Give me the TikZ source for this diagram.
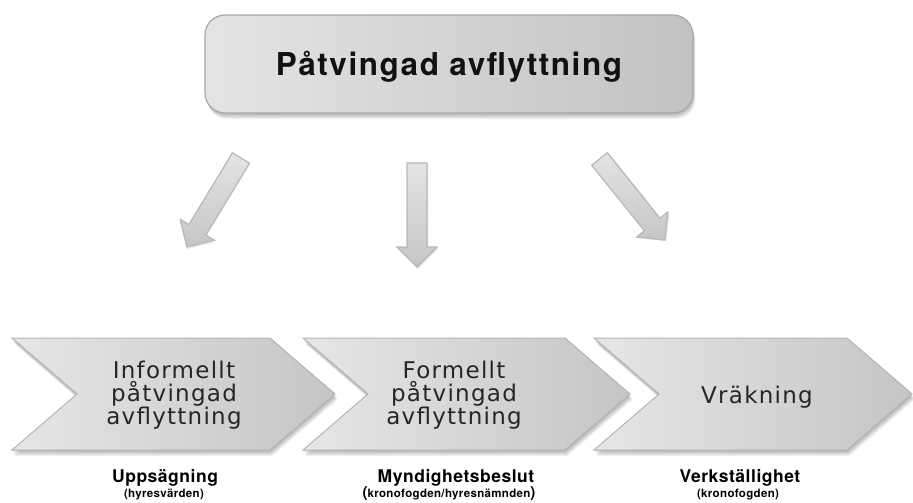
\documentclass[tikz,border=0pt]{standalone}
\usepackage{fontspec}
\setmainfont{TeX Gyre Heros}
\newfontfamily\titlefont[LetterSpace=5]{TeX Gyre Heros}
\newfontfamily\chevfont[LetterSpace=5.5]{DejaVu Sans}
\newfontfamily\lblfont[LetterSpace=3]{TeX Gyre Heros}

\definecolor{boxL}{HTML}{E3E4E3}
\definecolor{boxR}{HTML}{C2C2C2}
\definecolor{edgeC}{HTML}{A8A8A8}
\definecolor{chevL}{HTML}{E6E6E6}
\definecolor{chevR}{HTML}{C5C5C5}
\definecolor{chevE}{HTML}{B4B4B4}
\definecolor{arrT}{HTML}{E3E4E3}
\definecolor{arrB}{HTML}{C6C6C6}
\definecolor{arrE}{HTML}{B8B8B8}
\definecolor{chevtxt}{HTML}{262626}
\definecolor{titletxt}{HTML}{111111}

\tikzset{
  panel/.style={left color=boxL, right color=boxR, draw=edgeC, line width=1.2pt},
  chevfill/.style={left color=chevL, right color=chevR, draw=chevE, line width=1pt},
  blockarrow/.style={top color=arrT, bottom color=arrB, draw=arrE, line width=1.2pt},
  softshadow/.style={fill=black, opacity=0.055, draw=none},
  chevtext/.style={font=\chevfont\fontsize{23}{23}\selectfont, text=chevtxt, align=center, inner sep=0pt},
  mainlbl/.style={font=\lblfont\bfseries\fontsize{17.5}{18}\selectfont, anchor=base, inner sep=0pt},
  sublbl/.style={font=\lblfont\bfseries\fontsize{11.5}{12}\selectfont, anchor=base, inner sep=0pt},
}

% chevron: #1 left x, #2 tip x, #3 style
\newcommand\chevronshape[3]{%
  \path[#3] (#1,-338) -- (#2-65,-338) -- (#2,-394) -- (#2-65,-450) -- (#1,-450) -- (#1+65,-394) -- cycle;}
% block arrow: tail centre (#1,#2), rotation #3
\newcommand\blockarrowat[3]{%
  \begin{scope}[shift={(#1,#2)}, rotate=#3]
    \foreach \i in {1,2,3} {\path[softshadow, shift={(0.3*\i,-0.8*\i)}] (-10,0) -- (10,0) -- (10,-84) -- (20,-84) -- (0,-104) -- (-20,-84) -- (-10,-84) -- cycle;}
    \path[blockarrow] (-10,0) -- (10,0) -- (10,-84) -- (20,-84) -- (0,-104) -- (-20,-84) -- (-10,-84) -- cycle;
  \end{scope}}

\begin{document}
\begin{tikzpicture}[x=1pt,y=1pt]
\useasboundingbox (0,0) rectangle (913,-503);

% top box shadow
\foreach \i in {1,...,6} {\fill[softshadow, rounded corners=20] (205+0.4*\i,-15-\i) rectangle (693+0.4*\i,-113-\i);}
\node[panel, rounded corners=20, minimum width=488, minimum height=98, inner sep=0pt] (topbox) at (449,-64) {};
\node[anchor=base, font=\titlefont\bfseries\fontsize{31.5}{32}\selectfont, text=titletxt, inner sep=0pt] (title) at (449,-76) {Påtvingad avflyttning};

% block arrows
\blockarrowat{241}{-158}{-31.3}
\blockarrowat{417}{-163}{0}
\blockarrowat{599.5}{-159}{38.8}

% chevron shadows
\foreach \i in {1,...,6} {
  \begin{scope}[shift={(0.4*\i,-\i)}]
    \chevronshape{12}{335}{softshadow}
    \chevronshape{303}{630}{softshadow}
    \chevronshape{594}{912}{softshadow}
  \end{scope}}
% chevrons
\chevronshape{12}{335}{chevfill}
\chevronshape{303}{630}{chevfill}
\chevronshape{594}{912}{chevfill}

\node[chevtext] (c1) at (174,-395) {Informellt\\påtvingad\\avflyttning};
\node[chevtext] (c2) at (454,-395) {Formellt\\påtvingad\\avflyttning};
\node[chevtext, anchor=base] (c3) at (757,-403) {Vräkning};

% labels
\node[mainlbl] (l1) at (165,-482) {Uppsägning};
\node[sublbl] (s1) at (164,-497.5) {(hyresvärden)};
\node[mainlbl] (l2) at (456,-482) {Myndighetsbeslut};
\node[sublbl] (s2) at (449,-497.5) {{\fontsize{15}{15}\selectfont(}kronofogden/hyresnämnden{\fontsize{15}{15}\selectfont)}};
\node[mainlbl] (l3) at (740,-482) {Verkställighet};
\node[sublbl] (s3) at (738,-497.5) {(kronofogden)};
\end{tikzpicture}
\end{document}
